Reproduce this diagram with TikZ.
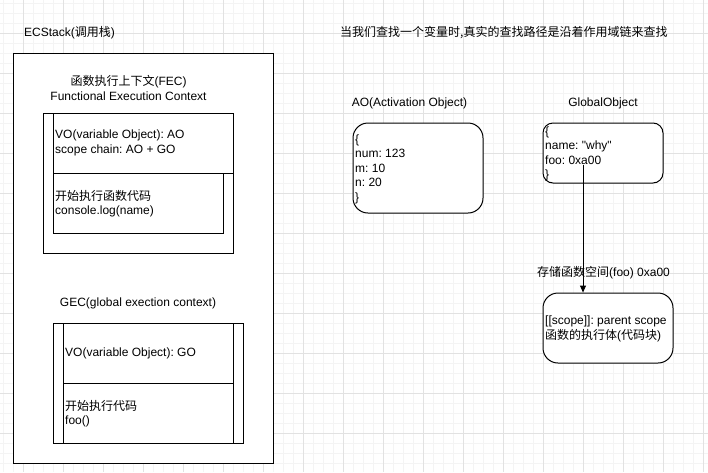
\documentclass[tikz,border=0pt]{standalone}
\usepackage{fontspec}
\setmainfont{Liberation Sans}
\newfontfamily\plainsans{Liberation Sans}
\newfontfamily\cjk{Noto Sans CJK SC}
\usetikzlibrary{arrows.meta}
\definecolor{minorgrid}{HTML}{F4F4F4}
\definecolor{majorgrid}{HTML}{E2E2E2}
\frenchspacing
\begin{document}
\frenchspacing
\begin{tikzpicture}[x=1pt,y=-1pt,
  font=\fontsize{12}{14.5}\selectfont\frenchspacing,
  box/.style={draw=black, line width=1pt, fill=white, inner sep=0pt},
  rbox/.style={box, rounded corners=#1},
  txt/.style={inner sep=0pt, align=left, anchor=west},
  ctxt/.style={inner sep=0pt, align=center},
  arr/.style={line width=1pt, -{Triangle[length=7pt,width=6pt]}}]
\useasboundingbox (0,0) rectangle (708,472);
\fill[white] (0,0) rectangle (708,472);
% grid
\foreach \i in {0,...,70} \draw[minorgrid, line width=1pt] ({3+10*\i},0) -- ({3+10*\i},472);
\foreach \i in {0,...,46} \draw[minorgrid, line width=1pt] (0,{3+10*\i}) -- (708,{3+10*\i});
\foreach \i in {0,...,17} \draw[majorgrid, line width=1pt] ({23+40*\i},0) -- ({23+40*\i},472);
\foreach \i in {0,...,10} \draw[majorgrid, line width=1pt] (0,{33+40*\i}) -- (708,{33+40*\i});

% titles
\node[txt] (stacktitle) at (24,33) {ECStack({\cjk 调用栈})};
\node[txt] (toptext) at (340,33) {\cjk 当我们查找一个变量时,真实的查找路径是沿着作用域链来查找};

% ECStack frame
\node[box, minimum width=260pt, minimum height=410pt] (ecs) at (143,258) {};

% FEC
\node[ctxt] (fectitle) at (128.5,88) {{\cjk 函数执行上下文}(FEC)\\Functional Execution Context};
\node[box, minimum width=190pt, minimum height=140pt] (fec) at (138,183) {};
\node[box, minimum width=180pt, minimum height=60pt] (fecvo) at (143,143) {};
\node[box, minimum width=170pt, minimum height=60pt] (feccode) at (138,203) {};
\node[txt] (fecvotext) at (55,143) {VO(variable Object): AO\\scope chain: AO + GO};
\node[txt] (feccodetext) at (55,203.5) {{\cjk 开始执行函数代码}\\console.log(name)};

% GEC
\node[ctxt] (gectitle) at (138,303) {GEC(global exection context)};
\node[box, minimum width=190pt, minimum height=120pt] (gec) at (148,383) {};
\node[box, minimum width=170pt, minimum height=60pt] (gecvo) at (148,353) {};
\node[box, minimum width=170pt, minimum height=60pt] (geccode) at (148,413) {};
\node[txt] (gecvotext) at (65,353) {VO(variable Object): GO};
\node[txt] (geccodetext) at (65,413.5) {{\cjk 开始执行代码}\\foo()};

% AO
\node[ctxt] (aotitle) at (409.5,103) {AO(Activation Object)};
\node[rbox=15pt, minimum width=130pt, minimum height=90pt] (ao) at (418,168) {};
\node[txt] (aotext) at (355,169) {\{\\num: 123\\m: 10\\n: 20\\\}};

% GlobalObject
\node[ctxt] (gotitle) at (603,103) {GlobalObject};
\node[rbox=10pt, minimum width=120pt, minimum height=60pt] (go) at (603,153) {};
\node[txt] (gotext) at (545,154) {\{\\name: {\plainsans "why"}\\foo: 0xa00\\\}};

% function object
\node[rbox=15pt, minimum width=130pt, minimum height=70pt] (fn) at (608,328) {};
\node[txt] (fntext) at (545,329) {[[scope]]: parent scope\\{\cjk 函数的执行体}({\cjk 代码块})};
\node[txt] (fnlabel) at (537,273) {{\cjk 存储函数空间}(foo) 0xa00};

\coordinate (foo) at (583,165);
\draw[arr] (foo) -- (foo |- fn.north);
\end{tikzpicture}
\end{document}
